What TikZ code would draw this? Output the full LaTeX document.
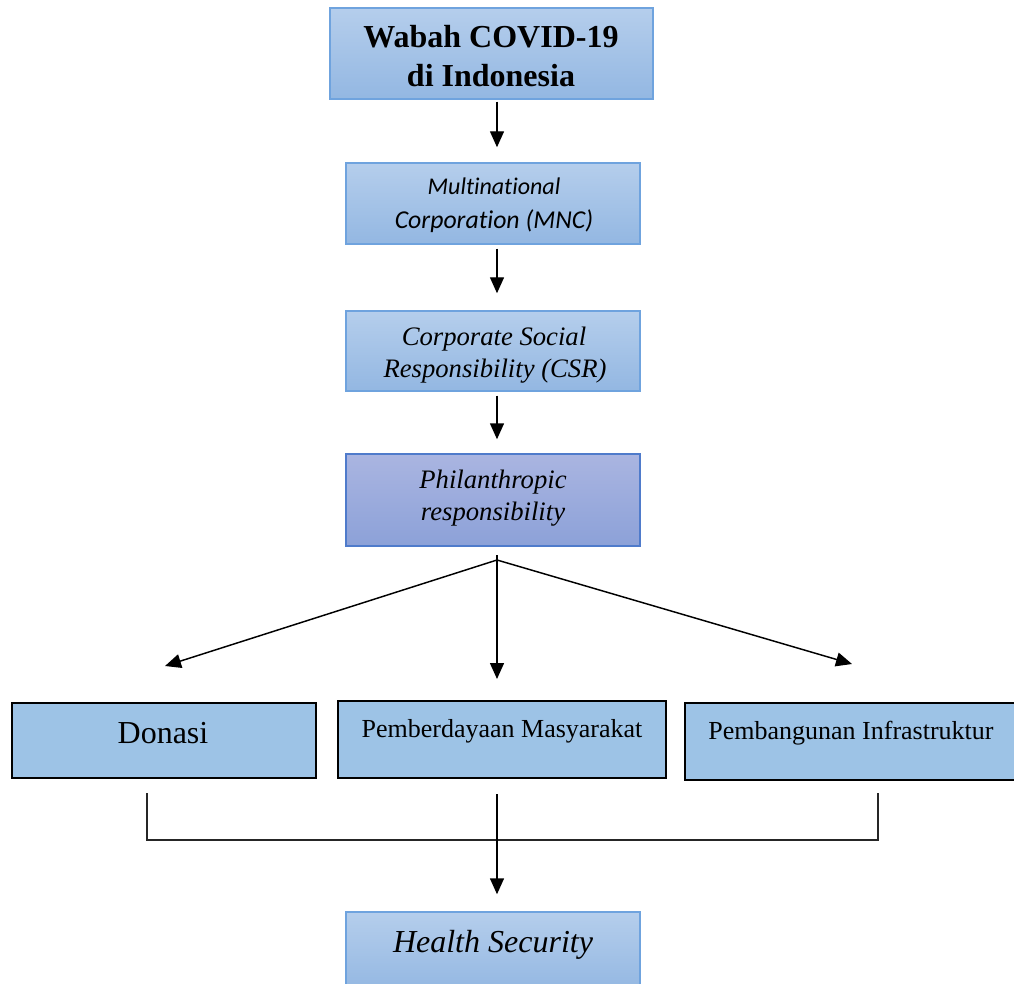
\documentclass[tikz,border=0pt]{standalone}
\usepackage{fontspec}
\setmainfont{Liberation Serif}
\newfontfamily\calibri[Ligatures=NoCommon]{Carlito}
\usetikzlibrary{arrows.meta,fit,calc}
\definecolor{topA}{HTML}{B5CEEC}
\definecolor{botA}{HTML}{93B7E2}
\definecolor{edgeA}{HTML}{6FA3DE}
\definecolor{topP}{HTML}{AAB5E1}
\definecolor{botP}{HTML}{8CA1D8}
\definecolor{edgeP}{HTML}{4F7BCB}
\definecolor{fillB}{HTML}{9DC3E6}
\tikzset{
  bluebox/.style={draw=edgeA, line width=1.1pt, top color=topA, bottom color=botA, inner sep=0pt},
  purplebox/.style={draw=edgeP, line width=1.1pt, top color=topP, bottom color=botP, inner sep=0pt},
  flatbox/.style={draw=black, line width=1.5pt, fill=fillB, inner sep=0pt},
  txt/.style={anchor=base, inner sep=0pt},
  arr/.style={line width=1.1pt, -{Triangle[length=12pt,width=10.5pt]}},
  brk/.style={line width=0.9pt, draw=black!85}
}
\begin{document}
\begin{tikzpicture}[x=0.75pt,y=-0.75pt]
\useasboundingbox (0,0) rectangle (1014,984);
% boxes
\node[bluebox, fit={(330,8) (653,99)}] (wabah) {};
\node[bluebox, fit={(346,163) (640,244)}] (mnc) {};
\node[bluebox, fit={(346,311) (640,391)}] (csr) {};
\node[purplebox, fit={(346,454) (640,546)}] (phil) {};
\node[flatbox, fit={(12,703) (316,778)}] (don) {};
\node[flatbox, fit={(338,701) (666,778)}] (pem) {};
\node[flatbox, fit={(685,703) (1022,780)}] (pib) {};
\node[bluebox, fit={(346,912) (640,992)}] (hs) {};
% texts
\node[txt] (t1a) at (491,48) {\fontsize{24pt}{28pt}\selectfont\bfseries Wabah COVID-19};
\node[txt] (t1b) at (491,87) {\fontsize{24pt}{28pt}\selectfont\bfseries di Indonesia};
\node[txt] (t2a) at (494,195) {\calibri\itshape\fontsize{18pt}{21pt}\selectfont Multinational};
\node[txt] (t2b) at (494,229) {\calibri\itshape\fontsize{19.3pt}{23pt}\selectfont Corporation (MNC)};
\node[txt] (t3a) at (494,345) {\itshape\fontsize{20pt}{24pt}\selectfont Corporate Social};
\node[txt] (t3b) at (495,378) {\itshape\fontsize{20pt}{24pt}\selectfont Responsibility (CSR)};
\node[txt] (t4a) at (493,488) {\itshape\fontsize{20pt}{24pt}\selectfont Philanthropic};
\node[txt] (t4b) at (493,520) {\itshape\fontsize{20pt}{24pt}\selectfont responsibility};
\node[txt] (t5) at (163,743) {\fontsize{24pt}{28pt}\selectfont Donasi};
\node[txt] (t6) at (502,737) {\fontsize{19.5pt}{23pt}\selectfont Pemberdayaan Masyarakat};
\node[txt] (t7) at (851,739) {\fontsize{19.5pt}{23pt}\selectfont Pembangunan Infrastruktur};
\node[txt] (t8) at (493,952) {\itshape\fontsize{24pt}{28pt}\selectfont Health Security};
% coordinates
\coordinate (ax) at (497,0);
\coordinate (hubtop) at (497,555);
\coordinate (hub) at (497,560);
\coordinate (dl) at (165,666);
\coordinate (dr) at (852,664);
\coordinate (blt) at (147,793);
\coordinate (bl) at (147,840);
\coordinate (br) at (878,840);
\coordinate (brt) at (878,793);
% connectors
\draw[arr, shorten <=1.5pt, shorten >=11.25pt] (wabah.south -| ax) -- (mnc.north -| ax);
\draw[arr, shorten <=3pt, shorten >=12.75pt] (mnc.south -| ax) -- (csr.north -| ax);
\draw[arr, shorten <=3pt, shorten >=10.5pt] (csr.south -| ax) -- (phil.north -| ax);
\draw[arr, shorten >=15.75pt] (hubtop) -- (pem.north -| ax);
\draw[arr] (hub) -- (dl);
\draw[arr] (hub) -- (dr);
\draw[brk] (blt) -- (bl) -- (br) -- (brt);
\draw[arr, shorten <=11.25pt, shorten >=12.75pt] (pem.south -| ax) -- (hs.north -| ax);
\end{tikzpicture}
\end{document}
